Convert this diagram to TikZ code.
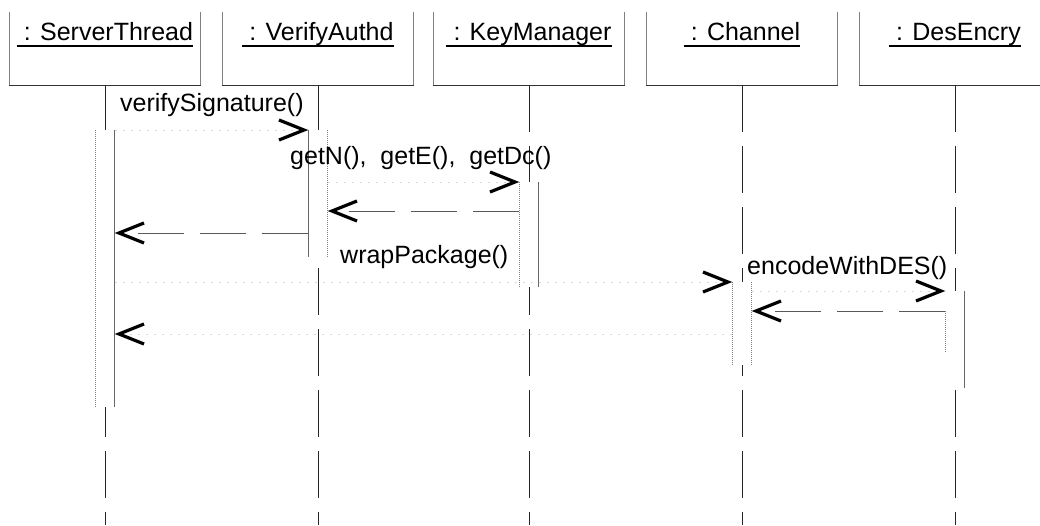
\documentclass[tikz,border=0pt]{standalone}
\usepackage{fontspec}
\setmainfont{Liberation Sans}
\usetikzlibrary{arrows.meta}

\tikzset{
  umlfont/.style={font=\fontsize{25}{30}\selectfont},
  objbox/.style={rectangle, draw=none, minimum width=191pt, minimum height=73pt, inner sep=0pt},
  objname/.style={umlfont, inner sep=0pt, anchor=base},
  nameline/.style={draw=black, line width=1.8pt},
  boxside/.style={draw=black!50, line width=0.6pt},
  boxfoot/.style={draw=black!80, line width=0.9pt},
  lifeline/.style={draw=black!85, line width=0.8pt, dash pattern=on 47pt off 14pt},
  actbar/.style={rectangle, fill=white, draw=none, minimum width=19pt, inner sep=0pt, anchor=north},
  barside/.style={draw=black!60, line width=0.6pt},
  barsidedot/.style={draw=black!50, line width=0.6pt, dash pattern=on 1pt off 1pt},
  msgtip/.style={-{Straight Barb[length=25pt,width=20pt,line width=3.2pt,color=black]}},
  callmsg/.style={msgtip, draw=black!15, line width=0.4pt, dash pattern=on 2pt off 6pt},
  retmsg/.style={msgtip, draw=black!65, line width=0.8pt, dash pattern=on 46pt off 16pt},
  msglabel/.style={umlfont, inner sep=0pt, anchor=base west},
}

\begin{document}
\begin{tikzpicture}[x=1pt,y=-1pt]
\useasboundingbox (0,0) rectangle (1040,525);

% object boxes (open at the top)
\node[objbox] (o1) at (105,48.5) {};
\node[objbox] (o2) at (318,48.5) {};
\node[objbox] (o3) at (529,48.5) {};
\node[objbox] (o4) at (742,48.5) {};
\node[objbox] (o5) at (955,48.5) {};
\foreach \o in {o1,o2,o3,o4,o5}{
  \draw[boxside] (\o.north west) -- (\o.south west) (\o.north east) -- (\o.south east);
  \draw[boxfoot] (\o.south west) -- (\o.south east);
}

% object names, underlined
\node[objname] (t1) at (105,40) {\ : ServerThread};
\node[objname] (t2) at (318,40) {\ : VerifyAuthd};
\node[objname] (t3) at (529,40) {\ : KeyManager};
\node[objname] (t4) at (742,40) {\ : Channel};
\node[objname] (t5) at (955,40) {\ : DesEncry};
\foreach \t in {t1,t2,t3,t4,t5}{
  \draw[nameline] ([yshift=-6pt]\t.base west) -- ([yshift=-6pt]\t.base east);
}

% lifelines
\foreach \o in {o1,o2,o3,o4,o5}{
  \draw[lifeline] (\o.south) -- (\o.south |- 0,525);
}

% activation bars
\node[actbar, minimum height=277pt] (b1) at (105,130) {};
\node[actbar, minimum height=127pt] (b2) at (318,130) {};
\node[actbar, minimum height=105pt] (b3) at (529,182) {};
\node[actbar, minimum height=83pt]  (b4) at (742,282) {};
\node[actbar, minimum height=97pt]  (b5) at (955,291) {};

\draw[barsidedot] (b1.north west) -- (b1.south west);
\draw[barside]    (b1.north east) -- (b1.south east);
\draw[barside]    (b2.north west) -- (b2.south west);
\draw[barsidedot] (b2.north east) -- (b2.south east);
\draw[barsidedot] (b3.north west) -- (b3.south west);
\draw[barside]    (b3.north east) -- (b3.south east);
\draw[barsidedot] (b4.north west) -- (b4.south west);
\draw[barsidedot] (b4.north east) -- (b4.south east);
\draw[barsidedot] (b5.west |- 0,311) -- (b5.west |- 0,353);
\draw[barside]    (b5.north east) -- (b5.south east);

% messages
\draw[callmsg] (b1.north east) -- (b2.north west);
\draw[callmsg] (b2.east |- b3.north) -- (b3.north west);
\draw[retmsg]  (b3.west |- 0,211) -- (b2.east |- 0,211);
\draw[retmsg]  (b2.west |- 0,233) -- (b1.east |- 0,233);
\draw[callmsg] (b1.east |- b4.north) -- (b4.north west);
\draw[callmsg] (b4.east |- b5.north) -- (b5.north west);
\draw[retmsg]  (b5.west |- 0,311) -- (b4.east |- 0,311);
\draw[callmsg] (b4.west |- 0,334) -- (b1.east |- 0,334);

% message names
\node[msglabel] (l1) at (120,111) {verifySignature()};
\node[msglabel] (l2) at (290,164) {getN(),\ \ getE(),\ \ getDc()};
\node[msglabel] (l3) at (340,263) {wrapPackage()};
\node[msglabel] (l4) at (747,274) {encodeWithDES()};
\end{tikzpicture}
\end{document}
